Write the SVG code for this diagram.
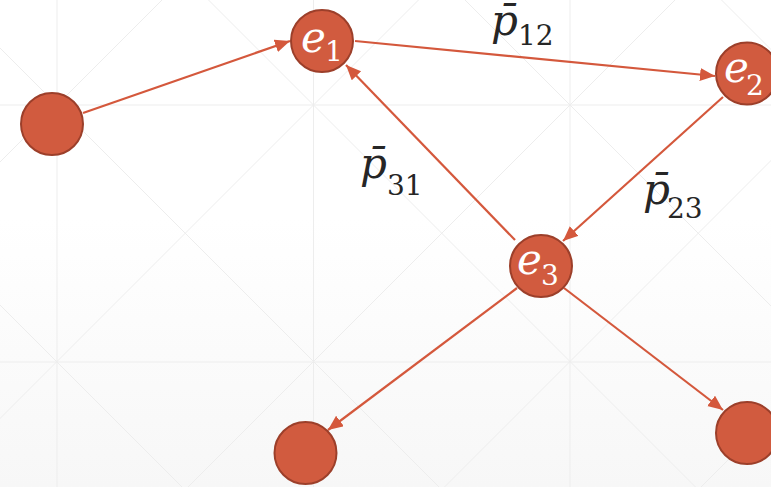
<svg xmlns="http://www.w3.org/2000/svg" width="771" height="487" viewBox="0 0 771 487">
<defs>
<linearGradient id="bg" x1="0" y1="0" x2="0" y2="1">
<stop offset="0" stop-color="#ffffff"/>
<stop offset="0.45" stop-color="#ffffff"/>
<stop offset="1" stop-color="#f7f7f7"/>
</linearGradient>
<marker id="arr" markerUnits="userSpaceOnUse" markerWidth="16" markerHeight="14" refX="15" refY="6.5" orient="auto">
<path d="M0,0 L15,6.5 L0,13 z" fill="#d4583c"/>
</marker>
<style>
.grid line{stroke:#ededed;stroke-width:1;fill:none}
.edge{stroke:#d4583c;stroke-width:2.2;fill:none;marker-end:url(#arr)}
.node circle{fill:#d15b3f;stroke:#9c3f2a;stroke-width:2}
.nl{font-family:"DejaVu Serif","Liberation Serif",serif;fill:#ffffff}
.lab{font-family:"DejaVu Serif","Liberation Serif",serif;fill:#262626}
.m{font-style:italic;font-size:42px}
.s{font-size:28px}
</style>
</defs>
<rect x="0" y="0" width="771" height="487" fill="url(#bg)"/>
<g class="grid">
<line x1="57" y1="0" x2="57" y2="487"/>
<line x1="313.5" y1="0" x2="313.5" y2="487"/>
<line x1="570" y1="0" x2="570" y2="487"/>
<line x1="0" y1="105" x2="771" y2="105"/>
<line x1="0" y1="362" x2="771" y2="362"/>
<line x1="-315" y1="-10" x2="195" y2="500"/>
<line x1="-58" y1="-10" x2="452" y2="500"/>
<line x1="198.5" y1="-10" x2="708.5" y2="500"/>
<line x1="455" y1="-10" x2="965" y2="500"/>
<line x1="711.5" y1="-10" x2="1221.5" y2="500"/>
<line x1="172" y1="-10" x2="-338" y2="500"/>
<line x1="428.5" y1="-10" x2="-81.5" y2="500"/>
<line x1="685" y1="-10" x2="175" y2="500"/>
<line x1="941.5" y1="-10" x2="431.5" y2="500"/>
<line x1="1198" y1="-10" x2="688" y2="500"/>
</g>
<g id="connectors">
<line class="edge" x1="83" y1="113" x2="290" y2="41"/>
<line class="edge" x1="355" y1="41" x2="715" y2="76"/>
<line class="edge" x1="723" y1="97" x2="563" y2="241"/>
<line class="edge" x1="515" y1="240" x2="346" y2="65"/>
<line class="edge" x1="517" y1="288" x2="328" y2="430"/>
<line class="edge" x1="564" y1="288" x2="723" y2="410"/>
</g>
<g id="n0" class="node"><circle cx="52" cy="124" r="31"/></g>
<g id="e1" class="node"><circle cx="322" cy="41" r="31"/>
<text class="nl"><tspan class="m" x="301" y="52">e</tspan><tspan class="s" x="325" y="61">1</tspan></text></g>
<g id="e2" class="node"><circle cx="747" cy="73.5" r="31"/>
<text class="nl"><tspan class="m" x="724" y="82">e</tspan><tspan class="s" x="746" y="95">2</tspan></text></g>
<g id="e3" class="node"><circle cx="541" cy="266" r="31"/>
<text class="nl"><tspan class="m" x="517" y="274">e</tspan><tspan class="s" x="541" y="285">3</tspan></text></g>
<g id="n4" class="node"><circle cx="305.5" cy="453" r="31"/></g>
<g id="n5" class="node"><circle cx="747" cy="433" r="31"/></g>
<g id="labels">
<text class="lab"><tspan class="m" x="491" y="35">p&#x304;</tspan><tspan class="s" x="518" y="45">12</tspan></text>
<text class="lab"><tspan class="m" x="360" y="178">p&#x304;</tspan><tspan class="s" x="387" y="195">31</tspan></text>
<text class="lab"><tspan class="m" x="643" y="204">p&#x304;</tspan><tspan class="s" x="667" y="218">23</tspan></text>
</g>
</svg>
